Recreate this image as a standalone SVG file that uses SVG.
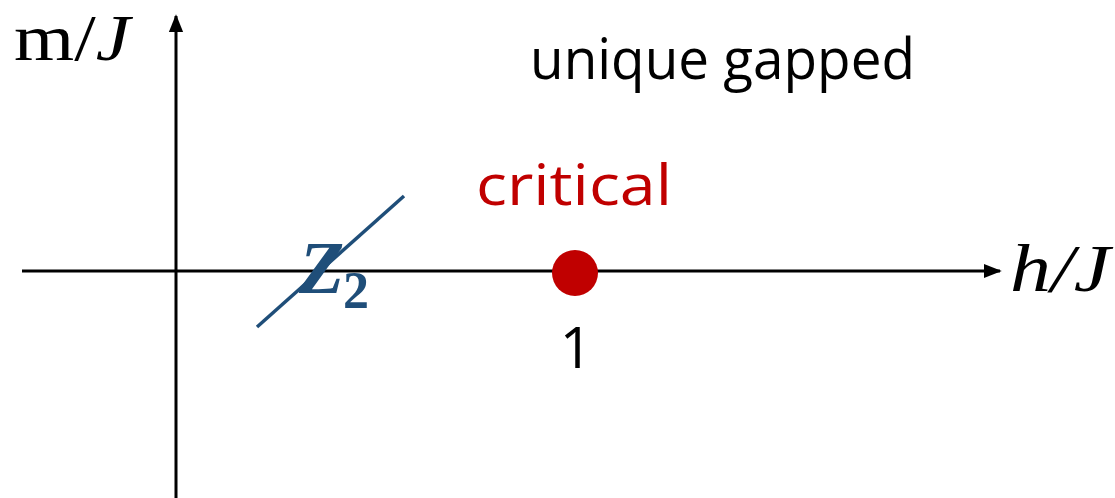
<svg xmlns="http://www.w3.org/2000/svg" width="1115" height="498" viewBox="0 0 1115 498">
<style>
.ax{stroke:#000;stroke-width:3;fill:none}
.serif{font-family:"Liberation Serif","DejaVu Serif",serif}
.sans{font-family:"Open Sans","Liberation Sans",sans-serif}
</style>
<defs>
<marker id="ah" viewBox="0 0 10 10" refX="9" refY="5" markerWidth="6" markerHeight="6" orient="auto" markerUnits="strokeWidth">
<path d="M0,1 L10,5 L0,9 Z" fill="#000"/>
</marker>
</defs>
<rect width="1115" height="498" fill="#fff"/>
<g id="connectors">
<line class="ax" x1="176" y1="498" x2="176" y2="16" marker-end="url(#ah)"/>
<line class="ax" x1="22" y1="271" x2="1000" y2="271" marker-end="url(#ah)"/>
<line x1="257" y1="327" x2="404" y2="196" stroke="#1F4E79" stroke-width="3.5"/>
</g>
<g id="ylabel"><text class="serif" x="14" y="60" font-size="66" textLength="116" lengthAdjust="spacingAndGlyphs">m/<tspan font-style="italic">J</tspan></text></g>
<g id="xlabel"><text class="serif" x="1010" y="291" font-size="68" font-style="italic" textLength="100" lengthAdjust="spacingAndGlyphs">h/J</text></g>
<g id="unique"><text class="sans" x="530" y="79" font-size="57" textLength="385" lengthAdjust="spacingAndGlyphs">unique gapped</text></g>
<g id="critical"><text class="sans" x="476" y="205" font-size="56" fill="#C00000" textLength="196" lengthAdjust="spacingAndGlyphs">critical</text></g>
<g id="point"><circle cx="575" cy="273" r="23" fill="#C00000"/>
<text class="sans" x="576" y="368" font-size="57" text-anchor="middle">1</text></g>
<g id="z2"><text class="serif" x="299" y="293" font-size="74" font-weight="bold" font-style="italic" fill="#1F4E79">Z<tspan font-style="normal" font-size="52" x="343" y="308">2</tspan></text></g>
</svg>
